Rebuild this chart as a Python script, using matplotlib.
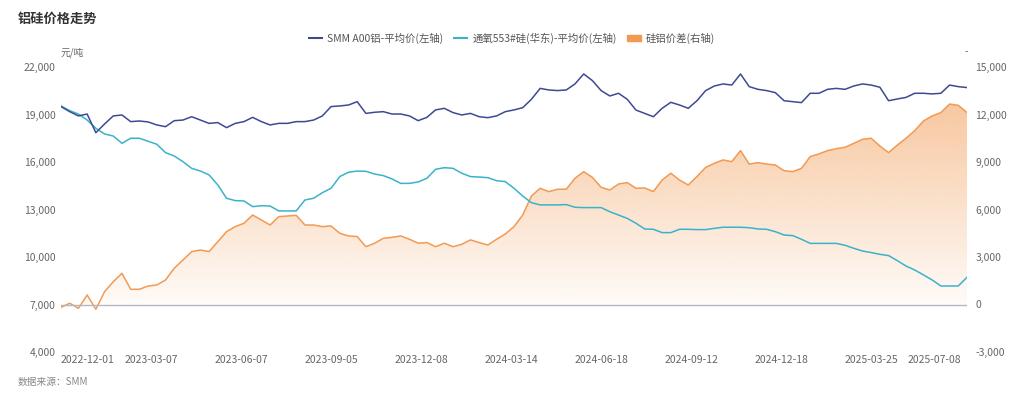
import numpy as np
import matplotlib
matplotlib.use("Agg")
import matplotlib.pyplot as plt
from matplotlib.lines import Line2D
from matplotlib.patches import Patch

plt.rcParams['font.family'] = ['Noto Sans CJK SC', 'DejaVu Sans']
plt.rcParams['axes.unicode_minus'] = False

# sampled every 6 trading days, from 2022-12-01
step_days = 6
tick_every = 62
tick_labels = ["2022-12-01", "2023-03-07", "2023-06-07", "2023-09-05", "2023-12-08", "2024-03-14",
               "2024-06-18", "2024-09-12", "2024-12-18", "2025-03-25", "2025-07-08"]

# SMM A00铝 平均价 (元/吨, left axis)
al_price = [19500, 19180, 18910, 19030, 17850, 18400, 18910, 18970, 18550, 18590, 18530, 18340, 18230, 18610,
            18650, 18860, 18650, 18440, 18490, 18170, 18440, 18550, 18820, 18550, 18340, 18440, 18440,
            18550, 18550, 18650, 18910, 19500, 19540, 19600, 19810, 19070, 19140, 19180, 19030, 19030, 18910,
            18610, 18820, 19290, 19390, 19120, 18970, 19070, 18860, 18800, 18910, 19180, 19290, 19430,
            19960, 20650, 20550, 20510, 20550, 20930, 21560, 21140, 20510, 20170, 20340, 19960, 19280, 19070,
            18860, 19390, 19770, 19600, 19390, 19870, 20510, 20800, 20930, 20860, 21560, 20760, 20590,
            20510, 20380, 19870, 19810, 19750, 20340, 20340, 20590, 20650, 20590, 20800, 20930, 20860, 20720,
            19870, 19980, 20080, 20340, 20340, 20300, 20340, 20860, 20760, 20700]

# 通氧553#硅(华东) 平均价 (元/吨, left axis)
si_price = [19540, 19240, 19030, 18650, 18130, 17770, 17640, 17180, 17500, 17500, 17310, 17120, 16590, 16380,
            16020, 15600, 15430, 15180, 14550, 13710, 13560, 13540, 13180, 13240, 13220, 12910, 12910,
            12910, 13600, 13710, 14060, 14340, 15080, 15350, 15430, 15410, 15240, 15140, 14930, 14650, 14650,
            14740, 14970, 15540, 15640, 15600, 15290, 15080, 15050, 15010, 14820, 14760, 14340, 13850,
            13430, 13290, 13290, 13290, 13310, 13140, 13120, 13120, 13120, 12860, 12650, 12440, 12130, 11770,
            11750, 11540, 11540, 11750, 11750, 11730, 11730, 11810, 11880, 11880, 11880, 11850, 11770,
            11750, 11600, 11390, 11350, 11120, 10860, 10860, 10860, 10860, 10740, 10550, 10380, 10280, 10170,
            10090, 9770, 9430, 9180, 8870, 8550, 8170, 8170, 8170, 8720]

# 硅铝价差 (right axis)
spread = [-180, 80, -240, 600, -300, 810, 1440, 1970, 960, 960, 1170, 1230, 1550, 2290,
          2810, 3340, 3440, 3340, 3970, 4600, 4920, 5130, 5650, 5340, 5020, 5550, 5590,
          5630, 5020, 5020, 4920, 4960, 4500, 4330, 4290, 3650, 3870, 4180, 4240, 4330, 4120,
          3870, 3910, 3650, 3870, 3650, 3800, 4080, 3910, 3760, 4120, 4450, 4920, 5650,
          6850, 7340, 7130, 7280, 7280, 7970, 8390, 8030, 7400, 7230, 7610, 7700, 7340, 7360,
          7130, 7860, 8290, 7860, 7550, 8080, 8660, 8920, 9130, 9020, 9720, 8870, 8960,
          8870, 8810, 8450, 8390, 8600, 9340, 9510, 9720, 9840, 9930, 10180, 10430, 10500, 10010,
          9590, 10070, 10500, 10980, 11590, 11910, 12120, 12660, 12580, 12120]

c_al = "#3d4a93"
c_si = "#3ab3c9"
c_sp = "#f29a52"
c_txt = "#666666"

x = np.arange(len(al_price)) * step_days

fig = plt.figure(figsize=(10.24, 3.99), dpi=100)
ax = fig.add_axes([61 / 1024, 1 - 352 / 399, 906 / 1024, 285 / 399])
ax2 = ax.twinx()
ax.set_zorder(ax2.get_zorder() + 1)
ax.patch.set_visible(False)

# spread area with vertical gradient
sp = np.array(spread)
fill = ax2.fill_between(x, sp, 0, color="none", lw=0)
grad = np.zeros((256, 1, 4))
grad[:, 0, 0] = 242 / 255
grad[:, 0, 1] = 154 / 255
grad[:, 0, 2] = 82 / 255
grad[:, 0, 3] = np.linspace(0.03, 0.55, 256)
img = ax2.imshow(grad, extent=[x[0], x[-1], sp.min(), sp.max()], origin="lower", aspect="auto", zorder=1)
img.set_clip_path(fill.get_paths()[0], transform=ax2.transData)
ax2.plot(x, sp, color=c_sp, lw=1.1, zorder=2)

ax.plot(x, si_price, color=c_si, lw=1.1)
ax.plot(x, al_price, color=c_al, lw=1.1)
ax.axhline(7000, color="#b4b7c6", lw=1.0, zorder=0)

ax.set_xlim(x[0], x[-1])
ax.set_ylim(4000, 22000)
ax2.set_ylim(-3000, 15000)
ax.set_yticks(np.arange(4000, 22001, 3000))
ax2.set_yticks(np.arange(-3000, 15001, 3000))
ax.yaxis.set_major_formatter(matplotlib.ticker.StrMethodFormatter("{x:,.0f}"))
ax2.yaxis.set_major_formatter(matplotlib.ticker.StrMethodFormatter("{x:,.0f}"))

pos = np.arange(len(tick_labels)) * tick_every
ax.set_xticks(pos)
ax.set_xticklabels(tick_labels)
lbls = ax.get_xticklabels()
lbls[0].set_ha("left")
lbls[-1].set_ha("right")

for a in (ax, ax2):
    for s in a.spines.values():
        s.set_visible(False)
    a.tick_params(length=0, labelsize=7.5, labelcolor=c_txt)
ax.tick_params(axis="y", pad=4)
ax2.tick_params(axis="y", pad=6)
ax.tick_params(axis="x", pad=2)

fig.text(18 / 1024, 1 - 19 / 399, "铝硅价格走势", fontsize=9.5, fontweight="bold", color="#333333", va="center")
fig.text(61 / 1024, 1 - 53 / 399, "元/吨", fontsize=7, color=c_txt, va="center")
fig.text(965 / 1024, 1 - 52 / 399, "-", fontsize=7, color=c_txt, va="center")
fig.text(18 / 1024, 1 - 382 / 399, "数据来源：SMM", fontsize=7, color="#888888", va="center")

handles = [Line2D([], [], color=c_al, lw=1.5),
           Line2D([], [], color=c_si, lw=1.5),
           Patch(facecolor=c_sp, edgecolor=c_sp)]
names = ["SMM A00铝-平均价(左轴)", "通氧553#硅(华东)-平均价(左轴)", "硅铝价差(右轴)"]
fig.legend(handles, names, loc="center", bbox_to_anchor=(512 / 1024, 1 - 38 / 399), ncol=3, frameon=False,
           fontsize=7.5, labelcolor="#555555", handlelength=1.3, handleheight=0.6, handletextpad=0.5,
           columnspacing=1.0)

fig.savefig("out.png", dpi=100)
